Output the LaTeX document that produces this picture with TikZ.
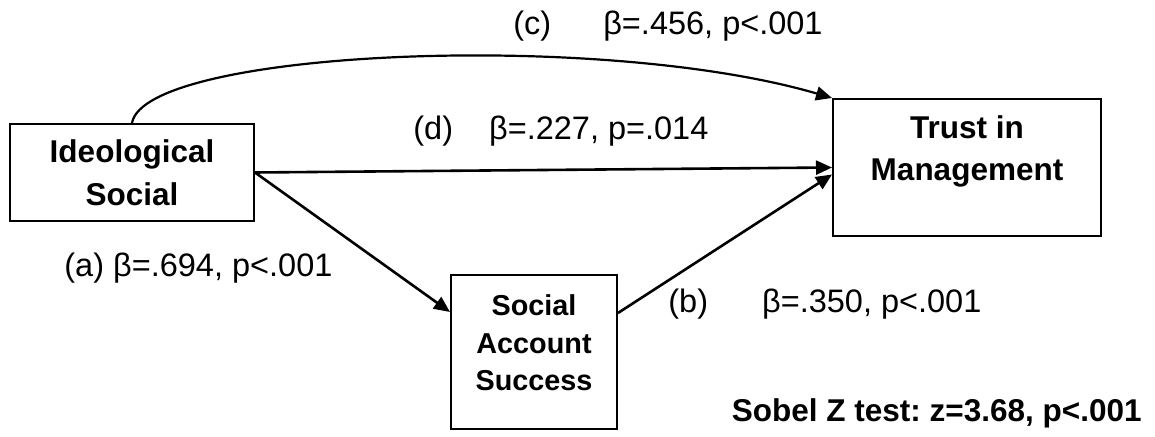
\documentclass[tikz,border=0pt]{standalone}
\usepackage{fontspec}
\setmainfont{Liberation Sans}
\usetikzlibrary{arrows.meta}
\frenchspacing
\newcommand{\labfont}{\fontsize{15.75}{21.25}\selectfont}
\newcommand{\coeffont}{\fontsize{16.25}{20}\selectfont}
\newcommand{\sasfont}{\fontsize{14.4}{18.75}\selectfont\bfseries}
\tikzset{
	>={Triangle[length=8pt,width=7pt]},
	box/.style={draw, line width=1pt, inner sep=0pt},
	boxtext/.style={align=center, font=\labfont\bfseries, inner sep=0pt},
	coef/.style={font=\coeffont, inner sep=0pt, anchor=base west},
	path/.style={->, line width=1.3pt}
}
\begin{document}
\begin{tikzpicture}[x=0.5pt, y=-0.5pt]
	\useasboundingbox (0,0) rectangle (1155,437);
	% variables
	\node [box, boxtext, minimum width=122pt, minimum height=48.5pt] (ideo) at (132,172.5) {Ideological\\Social};
	\node [box, minimum width=134pt, minimum height=68.5pt] (trust) at (967,167.5) {};
	\node [boxtext] (trusttxt) at ([yshift=8pt]trust.center) {Trust in\\Management};
	\node [box, minimum width=83pt, minimum height=77pt] (sas) at (534,352) {};
	\node [boxtext, font=\sasfont] (sastxt) at ([yshift=4.5pt]sas.center) {Social\\Account\\Success};
	% paths
	\draw [path, line width=1.1pt] (ideo.north) .. controls (145,50) and (600,30) .. (trust.north west);
	\draw [path] (ideo.east) -- (trust.west);
	\draw [path] (ideo.east) -- ([yshift=20pt]sas.west);
	\draw [path] ([yshift=19.5pt]sas.east) -- ([yshift=-3.5pt]trust.west);
	% coefficients
	\node [coef] (coefc) at (513,35) {(c)\hspace{26pt}β=.456, p<.001};
	\node [coef] (coefd) at (413,140) {(d)\hspace{18pt}β=.227, p=.014};
	\node [coef] (coefa) at (64,277) {(a) β=.694, p<.001};
	\node [coef] (coefb) at (668,313) {(b)\hspace{27pt}β=.350, p<.001};
	\node [coef, font=\labfont\bfseries, anchor=base east] (sobel) at (1142,422) {Sobel Z test: z=3.68, p<.001};
\end{tikzpicture}
\end{document}
